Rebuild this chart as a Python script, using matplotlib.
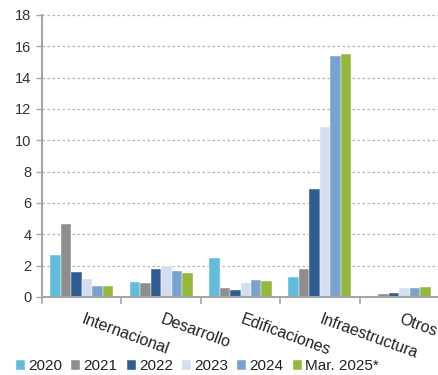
import matplotlib.pyplot as plt
import numpy as np

plt.rcParams['font.family'] = ['Liberation Sans', 'DejaVu Sans']

# categorias y valores por anio
categorias = ['Internacional', 'Desarrollo', 'Edificaciones', 'Infraestructura', 'Otros']
series = ['2020', '2021', '2022', '2023', '2024', 'Mar. 2025*']
v2020 = [2.68, 0.95, 2.52, 1.27, 0.05]
v2021 = [4.64, 0.88, 0.60, 1.79, 0.16]
v2022 = [1.60, 1.77, 0.43, 6.90, 0.25]
v2023 = [1.14, 1.96, 0.90, 10.87, 0.60]
v2024 = [0.71, 1.65, 1.08, 15.38, 0.60]
v2025 = [0.71, 1.51, 1.03, 15.50, 0.62]
valores = [v2020, v2021, v2022, v2023, v2024, v2025]
colores = ['#62BDDC', '#8E8E8E', '#2E5D91', '#D3DEF0', '#7AA2CF', '#95B83C']

fig = plt.figure(figsize=(4.39, 3.75), dpi=100)
ax = fig.add_axes([0.0957, 0.208, 0.9043, 0.752])

x = np.arange(len(categorias))
ancho = 0.132
for i, (nombre, vals, c) in enumerate(zip(series, valores, colores)):
    ax.bar(x + (i - 2.5) * ancho, vals, ancho, color=c, label=nombre,
           edgecolor='white', linewidth=0.3)

ax.set_xlim(-0.5, len(categorias) - 0.5)
ax.set_ylim(0, 18)
ax.set_yticks(range(0, 19, 2))
ax.yaxis.grid(True, linestyle=(0, (2, 2)), color='#B5B5B5', linewidth=0.9)
ax.set_axisbelow(True)

for s in ['top', 'right']:
    ax.spines[s].set_visible(False)
for s in ['left', 'bottom']:
    ax.spines[s].set_color('#A6A6A6')
    ax.spines[s].set_linewidth(1.5)

ax.tick_params(axis='y', colors='#A6A6A6', labelcolor='#333333', labelsize=10.5,
               length=4, width=1)
ax.set_xticks(np.arange(len(categorias) + 1) - 0.5)
ax.set_xticklabels([])
ax.tick_params(axis='x', colors='#A6A6A6', length=5, width=1.2)

# etiquetas inclinadas de las categorias
for xi, cat in zip(x, categorias):
    ax.annotate(cat, xy=(xi, 0), xycoords=('data', 'axes fraction'),
                xytext=(3, -15), textcoords='offset pixels',
                ha='left', va='top', rotation=-20, rotation_mode='anchor',
                fontsize=11.5, color='#222222')

fig.legend(loc='lower left', bbox_to_anchor=(0.015, -0.02), ncol=6, frameon=False,
           fontsize=11, handlelength=0.6, handleheight=0.6, handletextpad=0.2,
           columnspacing=0.6, borderaxespad=0.2, labelcolor='#222222')

fig.savefig('out.png', dpi=100)
